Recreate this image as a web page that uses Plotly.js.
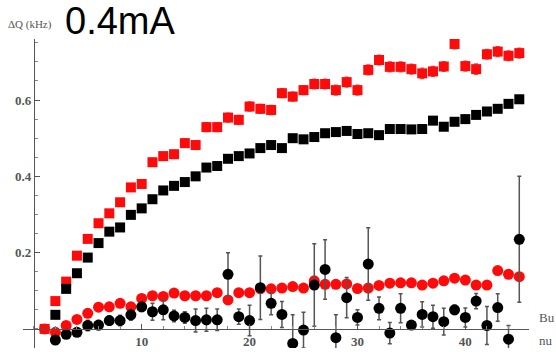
<!DOCTYPE html>
<html>
<head>
<meta charset="utf-8">
<script src="https://cdn.plot.ly/plotly-3.0.1.min.js"></script>
<style>html,body{margin:0;padding:0;background:#fff;}#chart{width:556px;height:352px;}</style>
</head>
<body>
<div id="chart"></div>
<script>
// Bunch numbers
const bunchRed = [1,2,3,4,5,6,7,8,9,10,11,12,13,14,15,16,17,18,19,20,21,22,23,24,25,26,27,28,29,30,31,32,33,34,35,36,37,38,39,40,41,42,43,44,45];
const bunchBlack = [2,3,4,5,6,7,8,9,10,11,12,13,14,15,16,17,18,19,20,21,22,23,24,25,26,27,28,29,30,31,32,33,34,35,36,37,38,39,40,41,42,43,44,45];

// Red squares (with small error bars)
const redSquare = [0.000,0.073,0.124,0.192,0.236,0.277,0.303,0.332,0.371,0.380,0.437,0.453,0.458,0.487,0.482,0.529,0.529,0.554,0.548,0.583,0.577,0.574,0.618,0.609,0.626,0.642,0.642,0.626,0.647,0.626,0.679,0.705,0.687,0.687,0.681,0.670,0.675,0.688,0.747,0.689,0.681,0.720,0.727,0.716,0.723];
const redSquareErr = [0.004,0.004,0.004,0.005,0.005,0.005,0.005,0.006,0.006,0.006,0.010,0.010,0.010,0.011,0.011,0.012,0.012,0.012,0.012,0.012,0.012,0.012,0.012,0.012,0.012,0.013,0.013,0.013,0.013,0.013,0.013,0.013,0.013,0.013,0.013,0.014,0.013,0.013,0.013,0.013,0.014,0.013,0.013,0.013,0.013];

// Black squares
const blackSquare = [0.037,0.105,0.146,0.187,0.225,0.255,0.266,0.299,0.316,0.340,0.363,0.375,0.385,0.400,0.423,0.427,0.446,0.453,0.460,0.474,0.482,0.474,0.500,0.497,0.503,0.513,0.516,0.519,0.511,0.513,0.508,0.524,0.524,0.523,0.524,0.546,0.530,0.543,0.550,0.561,0.570,0.577,0.590,0.602];

// Red circles
const redCircle = [0.000,-0.009,0.009,0.025,0.041,0.057,0.058,0.067,0.058,0.080,0.087,0.085,0.094,0.087,0.087,0.087,0.095,0.076,0.095,0.095,0.105,0.105,0.107,0.111,0.107,0.126,0.117,0.117,0.118,0.106,0.107,0.114,0.120,0.121,0.121,0.115,0.120,0.126,0.133,0.128,0.115,0.115,0.153,0.143,0.137];

// Black circles (with error bars)
const blackCircle = [-0.029,-0.014,-0.009,0.009,0.010,0.022,0.022,0.037,0.058,0.045,0.050,0.034,0.030,0.022,0.024,0.024,0.143,0.032,0.022,0.108,0.067,0.038,-0.038,-0.003,0.115,0.156,-0.023,0.082,0.030,0.170,0.054,-0.011,0.054,0.010,0.038,0.032,0.019,0.050,0.030,0.073,0.009,0.056,-0.027,0.235];
const blackCircleErr = [0.008,0.008,0.008,0.014,0.012,0.012,0.014,0.014,0.012,0.022,0.026,0.015,0.015,0.030,0.030,0.028,0.057,0.020,0.040,0.083,0.030,0.034,0.075,0.047,0.108,0.078,0.060,0.053,0.020,0.095,0.030,0.028,0.038,0.010,0.033,0.030,0.035,0.012,0.025,0.020,0.050,0.036,0.036,0.165];

const xTicks = [10,20,30,40];
const yTicks = [0.2,0.4,0.6];
const xRange = [-1, 45.9];
const yRange = [-0.05, 0.76];

const RED = '#ff0a0a';
const traces = [
  {x: bunchRed, y: redSquare, type:'scatter', mode:'markers', name:'red squares',
   marker:{symbol:'square', size:10, color:RED},
   error_y:{type:'data', array:redSquareErr, visible:true, color:'#e05050', thickness:1.2, width:2}},
  {x: bunchBlack, y: blackSquare, type:'scatter', mode:'markers', name:'black squares',
   marker:{symbol:'square', size:10, color:'#000'}},
  {x: bunchRed, y: redCircle, type:'scatter', mode:'markers', name:'red circles',
   marker:{symbol:'circle', size:11, color:RED}},
  {x: bunchBlack, y: blackCircle, type:'scatter', mode:'markers', name:'black circles',
   marker:{symbol:'circle', size:11, color:'#000'},
   error_y:{type:'data', array:blackCircleErr, visible:true, color:'#555', thickness:1.5, width:2}}
];

const tickFont = {family:'Liberation Serif, DejaVu Serif, serif', size:13, color:'#555', weight:'bold'};
const layout = {
  width:556, height:352,
  margin:{l:23, r:27, t:39, b:4},
  paper_bgcolor:'#fff', plot_bgcolor:'#fff',
  showlegend:false,
  title:{text:'0.4mA', font:{family:'Liberation Sans, Arial, sans-serif', size:38, color:'#000'},
         xref:'container', yref:'container', x:0.117, xanchor:'left', y:0.94, yanchor:'middle'},
  xaxis:{range:xRange, anchor:'free', position:(0 - yRange[0])/(yRange[1]-yRange[0]),
         showgrid:false, zeroline:false, showline:true, linecolor:'#555', linewidth:1,
         tickvals:xTicks, ticks:'inside', ticklen:5, tickcolor:'#555', tickfont:tickFont,
         minor:{ticks:'inside', ticklen:3, dtick:2, tickcolor:'#888', showgrid:false}},
  yaxis:{range:yRange, anchor:'free', position:(0 - xRange[0])/(xRange[1]-xRange[0]),
         showgrid:false, zeroline:false, showline:true, linecolor:'#555', linewidth:1,
         tickvals:yTicks, ticks:'inside', ticklen:5, tickcolor:'#555', tickfont:tickFont,
         minor:{ticks:'inside', ticklen:3, dtick:0.05, tickcolor:'#888', showgrid:false}},
  annotations:[
    {text:'ΔQ (kHz)', xref:'paper', yref:'paper', x:-0.034, y:1.046, xanchor:'left', yanchor:'middle',
     showarrow:false, font:{family:'Liberation Serif, DejaVu Serif, serif', size:11, color:'#555'}},
    {text:'Bu', xref:'paper', yref:'paper', x:1.016, y:0.100, xanchor:'left', yanchor:'middle',
     showarrow:false, font:{family:'Liberation Serif, DejaVu Serif, serif', size:13, color:'#555'}},
    {text:'nu', xref:'paper', yref:'paper', x:1.016, y:0.023, xanchor:'left', yanchor:'middle',
     showarrow:false, font:{family:'Liberation Serif, DejaVu Serif, serif', size:13, color:'#555'}}
  ]
};

Plotly.newPlot('chart', traces, layout, {displayModeBar:false, staticPlot:true});
</script>
</body>
</html>
